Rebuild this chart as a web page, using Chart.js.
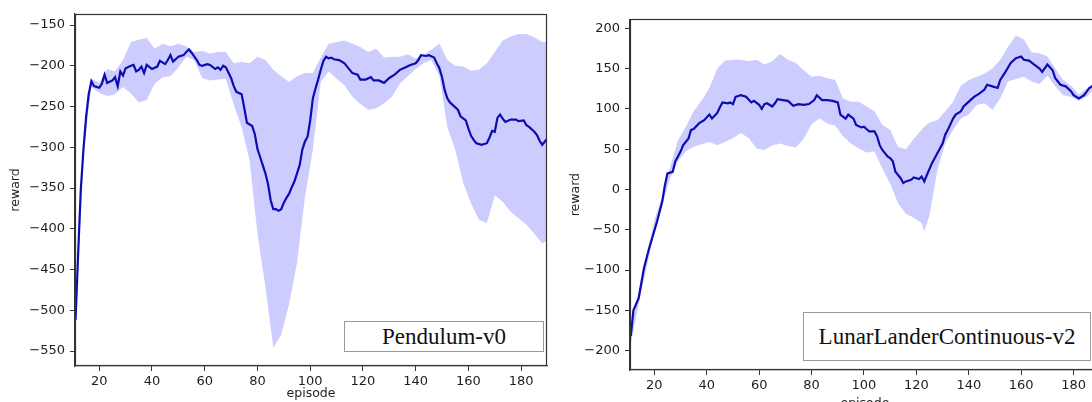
<!DOCTYPE html>
<html>
<head>
<meta charset="utf-8">
<script src="https://cdn.jsdelivr.net/npm/chart.js@4.4.0/dist/chart.umd.min.js"></script>
<style>
    html, body { margin: 0; padding: 0; width: 1092px; height: 402px; overflow: hidden; background: #fff; }
    canvas { position: absolute; top: 0; }
    .envbox {
        position: absolute; box-sizing: border-box; border: 1px solid #9a9a9a; background: #fff;
        font-family: "Liberation Serif", "Times New Roman", serif; font-size: 23px; color: #111;
        display: flex; align-items: center; justify-content: center;
    }
</style>
</head>
<body>
<canvas id="pendulumChart" width="560" height="402" style="left:0; width:560px; height:402px;"></canvas>
<canvas id="lunarChart" width="560" height="420" style="left:560px; width:560px; height:420px;"></canvas>
<div class="envbox" style="left:344px; top:321px; width:200px; height:31px;">Pendulum-v0</div>
<div class="envbox" style="left:803px; top:312px; width:288px; height:49px;">LunarLanderContinuous-v2</div>

<script>
// tick labels
const xTicks = [20, 40, 60, 80, 100, 120, 140, 160, 180];
const pendYTicks = [-550, -500, -450, -400, -350, -300, -250, -200, -150];
const lunarYTicks = [-200, -150, -100, -50, 0, 50, 100, 150, 200];

// Pendulum-v0: mean reward
const pendEp = [11, 12, 13, 14, 15, 16, 17, 18, 20, 21, 22, 23, 25, 26, 27, 28, 29, 30, 32, 33, 34, 35, 36, 37, 38, 40,
    42, 43, 45, 46, 47, 48, 50, 52, 53, 54, 55, 57, 58, 59, 61, 62, 64, 65, 66, 67, 68, 70, 71, 72, 74, 75, 76, 78, 79,
    80, 81, 82, 83, 84, 85, 86, 87, 88, 89, 90, 91, 92, 93, 94, 95, 96, 97, 98, 99, 100, 101, 102, 103, 104, 105, 106,
    107, 108, 109, 111, 113, 114, 116, 118, 119, 121, 123, 124, 126, 128, 130, 132, 134, 136, 138, 140, 141, 142, 144,
    145, 147, 148, 149, 150, 151, 152, 153, 154, 156, 157, 159, 160, 161, 162, 163, 165, 167, 168, 169, 170, 171, 172,
    173, 174, 176, 178, 179, 181, 182, 183, 185, 186, 187, 188, 189, 190];
const pendMean = [-512, -430, -352, -303, -263, -235, -219, -225, -227, -222, -211, -221, -218, -214, -225, -207, -212,
    -203, -200, -199, -207, -205, -201, -209, -199, -204, -201, -194, -198, -193, -187, -195, -189, -187, -183, -180,
    -184, -193, -199, -200, -198, -199, -204, -202, -205, -200, -202, -215, -225, -232, -235, -252, -270, -274, -284,
    -302, -312, -322, -332, -345, -365, -376, -376, -378, -376, -368, -362, -357, -349, -342, -332, -322, -303, -293,
    -287, -267, -240, -228, -217, -205, -194, -189, -191, -190, -192, -193, -197, -201, -209, -211, -217, -217, -214,
    -218, -218, -221, -215, -211, -205, -202, -199, -197, -193, -187, -188, -187, -190, -197, -203, -214, -230, -240,
    -245, -248, -254, -262, -267, -277, -286, -291, -295, -297, -295, -288, -280, -281, -264, -260, -265, -269, -266,
    -266, -268, -267, -273, -275, -281, -285, -292, -297, -293, -289];

// Pendulum-v0: shaded spread
const pendBandEp = [11, 14, 17, 20, 23, 26, 29, 32, 35, 38, 41, 44, 47, 50, 53, 56, 59, 62, 65, 68, 71, 74, 77, 80, 83,
    86, 89, 92, 95, 98, 101, 104, 107, 110, 113, 116, 119, 122, 125, 128, 131, 134, 137, 140, 143, 146, 149, 152, 155,
    158, 161, 164, 167, 170, 173, 176, 179, 182, 185, 188, 190];
const pendUpper = [-505, -296, -216, -221, -204, -207, -193, -171, -168, -166, -179, -173, -176, -173, -176, -183, -182,
    -185, -183, -183, -197, -195, -197, -189, -193, -205, -213, -220, -213, -209, -209, -190, -173, -171, -169, -173,
    -177, -183, -179, -190, -189, -189, -186, -191, -187, -180, -173, -193, -200, -201, -206, -205, -197, -183, -169,
    -164, -161, -161, -165, -171, -171];
const pendLower = [-520, -310, -226, -233, -237, -235, -226, -234, -245, -242, -222, -214, -213, -202, -189, -193, -215,
    -218, -217, -216, -248, -275, -316, -406, -471, -546, -530, -492, -442, -361, -303, -220, -207, -216, -224, -238,
    -247, -254, -252, -246, -238, -222, -213, -204, -197, -193, -213, -275, -303, -344, -369, -389, -393, -359, -367,
    -379, -387, -395, -406, -418, -414];

// LunarLanderContinuous-v2: mean reward
const lunarEp = [11, 12, 14, 16, 18, 21, 23, 24, 25, 27, 28, 29, 30, 31, 33, 34, 35, 37, 39, 41, 42, 44, 45, 46, 48, 49,
    50, 51, 53, 55, 57, 58, 60, 61, 62, 63, 65, 66, 67, 69, 71, 73, 75, 77, 79, 81, 82, 84, 86, 88, 90, 91, 93, 94, 96,
    97, 99, 100, 102, 104, 105, 106, 107, 109, 110, 111, 112, 114, 115, 116, 118, 119, 121, 122, 123, 124, 126, 128, 130,
    131, 132, 134, 135, 137, 138, 140, 142, 144, 146, 147, 149, 151, 152, 154, 156, 158, 160, 161, 163, 165, 167, 168,
    170, 172, 173, 175, 177, 179, 180, 182, 184, 186, 187, 190];
const lunarMean = [-182, -150, -135, -98, -73, -40, -15, 5, 20, 22, 35, 41, 47, 55, 63, 74, 75, 82, 86, 93, 88, 95, 102,
    108, 107, 108, 106, 115, 117, 115, 108, 110, 105, 100, 106, 107, 103, 107, 112, 111, 110, 104, 106, 105, 106, 111,
    117, 111, 111, 110, 108, 93, 88, 93, 88, 80, 77, 78, 72, 72, 66, 55, 49, 41, 39, 35, 22, 14, 8, 10, 12, 15, 13, 16,
    10, 18, 33, 45, 57, 68, 74, 88, 93, 97, 103, 109, 115, 119, 124, 130, 128, 126, 136, 146, 157, 163, 165, 161, 160,
    155, 150, 146, 155, 148, 138, 130, 128, 122, 117, 113, 117, 126, 128, 130];

// LunarLanderContinuous-v2: shaded spread
const lunarBandEp = [11, 14, 17, 20, 23, 26, 29, 32, 35, 38, 41, 44, 47, 50, 53, 56, 59, 62, 65, 68, 71, 74, 77, 80, 83,
    86, 89, 92, 95, 98, 101, 104, 107, 110, 113, 116, 119, 122, 123, 125, 128, 131, 134, 137, 140, 143, 146, 149, 152,
    155, 158, 161, 164, 167, 170, 173, 176, 179, 182, 185, 188, 190];
const lunarUpper = [-172, -128, -84, -38, -8, 28, 61, 78, 97, 110, 126, 150, 160, 161, 161, 159, 161, 155, 159, 168, 161,
    157, 148, 140, 141, 138, 136, 113, 109, 109, 103, 97, 80, 74, 53, 50, 63, 74, 78, 83, 86, 97, 109, 129, 136, 140,
    144, 150, 161, 177, 191, 186, 170, 169, 165, 150, 136, 129, 118, 125, 131, 133];
const lunarLower = [-192, -142, -98, -50, -20, 14, 35, 47, 53, 56, 59, 55, 59, 64, 70, 64, 51, 49, 55, 57, 54, 52, 63, 81,
    88, 82, 79, 66, 57, 51, 46, 47, 26, 7, -17, -30, -35, -42, -52, -32, 24, 57, 74, 88, 93, 105, 107, 99, 113, 134,
    137, 140, 134, 131, 141, 128, 117, 115, 110, 115, 125, 127];

const lineColor = '#0c0cb0';
const bandColor = 'rgba(0, 0, 255, 0.2)';
const axisColor = '#333333';
const textColor = '#1e1e1e';

Chart.defaults.font.family = "'DejaVu Sans', sans-serif";

function toPoints(xs, ys) {
    return xs.map((x, i) => ({ x: x, y: ys[i] }));
}

function minusSign(v) {
    return v < 0 ? '\u2212' + Math.abs(v) : String(v);
}

// matplotlib-like closed frame around the plot area
const frameBox = {
    id: 'frameBox',
    afterDraw(chart) {
        const { ctx, chartArea: a } = chart;
        ctx.save();
        ctx.strokeStyle = axisColor;
        ctx.lineWidth = 1.2;
        ctx.strokeRect(Math.round(a.left) + 0.5, Math.round(a.top) + 0.5,
            Math.round(a.right - a.left) - 1, Math.round(a.bottom - a.top) - 1);
        ctx.restore();
    }
};

function makeChart(canvasId, cfg) {
    const ctx = document.getElementById(canvasId).getContext('2d');
    const tickGrid = { drawOnChartArea: false, drawTicks: true, tickLength: 5, tickColor: axisColor, lineWidth: 1 };
    return new Chart(ctx, {
        type: 'line',
        data: {
            datasets: [
                {
                    label: 'mean',
                    data: toPoints(cfg.meanEp, cfg.mean),
                    borderColor: lineColor,
                    borderWidth: 2.2,
                    pointRadius: 0,
                    tension: 0,
                    fill: false
                },
                {
                    label: 'upper',
                    data: toPoints(cfg.bandEp, cfg.upper),
                    borderColor: 'transparent',
                    borderWidth: 0,
                    pointRadius: 0,
                    backgroundColor: bandColor,
                    fill: '+1'
                },
                {
                    label: 'lower',
                    data: toPoints(cfg.bandEp, cfg.lower),
                    borderColor: 'transparent',
                    borderWidth: 0,
                    pointRadius: 0,
                    fill: false
                }
            ]
        },
        options: {
            responsive: false,
            animation: false,
            events: [],
            layout: { padding: cfg.padding },
            scales: {
                x: {
                    type: 'linear',
                    min: cfg.xMin,
                    max: cfg.xMax,
                    afterBuildTicks: s => { s.ticks = xTicks.map(v => ({ value: v })); },
                    afterFit: s => { s.height = cfg.xHeight; },
                    grid: tickGrid,
                    border: { display: true, color: axisColor, width: 1.2 },
                    ticks: { color: textColor, font: { size: 13 }, padding: 3, maxRotation: 0, autoSkip: false },
                    title: {
                        display: true,
                        text: 'episode',
                        color: textColor,
                        font: { size: 12.5 },
                        padding: { top: 0, bottom: cfg.xTitlePad }
                    }
                },
                y: {
                    type: 'linear',
                    min: cfg.yMin,
                    max: cfg.yMax,
                    afterBuildTicks: s => { s.ticks = cfg.yTicks.map(v => ({ value: v })); },
                    afterFit: s => { s.width = cfg.yWidth; },
                    grid: tickGrid,
                    border: { display: true, color: axisColor, width: 1.2 },
                    ticks: { color: textColor, font: { size: 13 }, padding: 5, callback: minusSign },
                    title: {
                        display: true,
                        text: 'reward',
                        color: textColor,
                        font: { size: 12.5 },
                        padding: { top: 8, bottom: 0 }
                    }
                }
            },
            plugins: {
                legend: { display: false },
                tooltip: { enabled: false }
            }
        },
        plugins: [frameBox]
    });
}

makeChart('pendulumChart', {
    meanEp: pendEp, mean: pendMean,
    bandEp: pendBandEp, upper: pendUpper, lower: pendLower,
    xMin: 10.8, xMax: 189.8, yMin: -568.4, yMax: -136.5,
    yTicks: pendYTicks,
    padding: { top: 14, right: 13, bottom: 0, left: 0 },
    yWidth: 75, xHeight: 36, xTitlePad: 0.5
});

makeChart('lunarChart', {
    meanEp: lunarEp, mean: lunarMean,
    bandEp: lunarBandEp, upper: lunarUpper, lower: lunarLower,
    xMin: 10.7, xMax: 190, yMin: -224, yMax: 211.2,
    yTicks: lunarYTicks,
    padding: { top: 19.3, right: 20.2, bottom: 0, left: 0 },
    yWidth: 70, xHeight: 50, xTitlePad: 9
});
</script>
</body>
</html>
